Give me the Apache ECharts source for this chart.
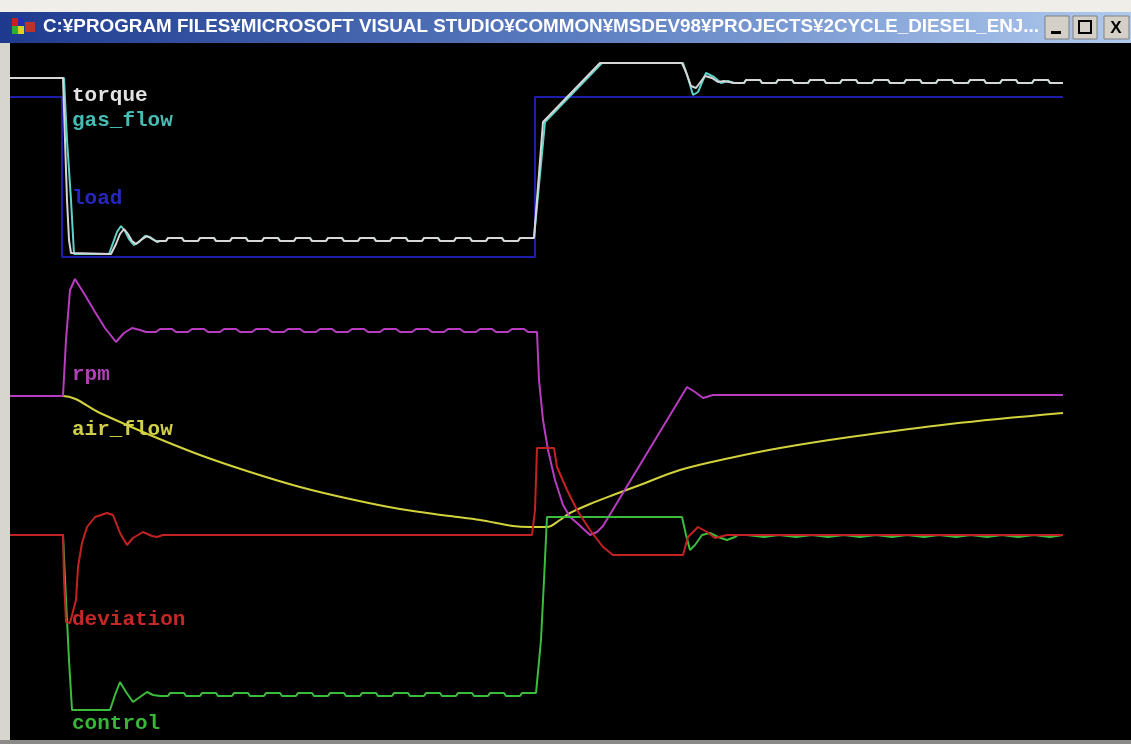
<!DOCTYPE html>
<html>
<head>
<meta charset="utf-8">
<title>2cycle diesel engine</title>
<script src="https://cdn.jsdelivr.net/npm/echarts@6.0.0/dist/echarts.min.js"></script>
<style>
  html, body { margin: 0; padding: 0; background: #000; }
  #main { width: 1131px; height: 744px; }
</style>
</head>
<body>
<div id="main"></div>
<script>
// Engine simulation traces: [time step, display level]
const load = [[0,643],[52,643],[52,483],[525,483],[525,643],[1053,643]];

const gasFlow = [[0,662],[54,662],[57,600],[61,540],[64,486],[99,486],[103,497],[107,508],[111,514],[115,509],[119,501],[124,495],[129,498],[135,504],[140,503],[146,499],[150,499],
  [156,499],[158,502],[172,502],[174,499],[188,499],[190,502],[204,502],[206,499],[220,499],[222,502],[236,502],[238,499],[252,499],[254,502],[268,502],[270,499],[284,499],[286,502],[300,502],[302,499],[316,499],[318,502],[332,502],[334,499],[348,499],[350,502],[364,502],[366,499],[380,499],[382,502],[396,502],[398,499],[412,499],[414,502],[428,502],[430,499],[444,499],[446,502],[460,502],[462,499],[476,499],[478,502],[492,502],[494,499],[508,499],[510,502],[524,502],[526,500],
  [535,618],[592,677],[673,677],[678,662],[683,645],[688,648],[696,667],[704,663],[711,657],[718,659],
  [724,657],[734,657],[736,660],[750,660],[752,657],[766,657],[768,660],[782,660],[784,657],[798,657],[800,660],[814,660],[816,657],[830,657],[832,660],[846,660],[848,657],[862,657],[864,660],[878,660],[880,657],[894,657],[896,660],[910,660],[912,657],[926,657],[928,660],[942,660],[944,657],[958,657],[960,660],[974,660],[976,657],[990,657],[992,660],[1006,660],[1008,657],[1022,657],[1024,660],[1038,660],[1040,657],[1053,657]];

const torque = [[0,662],[53,662],[55,600],[57,540],[59,500],[61,487],[63,486],[101,486],[106,496],[110,506],[114,511],[118,506],[122,499],[126,496],[131,500],[137,504],[142,501],[147,498],[150,499],
  [156,499],[158,502],[172,502],[174,499],[188,499],[190,502],[204,502],[206,499],[220,499],[222,502],[236,502],[238,499],[252,499],[254,502],[268,502],[270,499],[284,499],[286,502],[300,502],[302,499],[316,499],[318,502],[332,502],[334,499],[348,499],[350,502],[364,502],[366,499],[380,499],[382,502],[396,502],[398,499],[412,499],[414,502],[428,502],[430,499],[444,499],[446,502],[460,502],[462,499],[476,499],[478,502],[492,502],[494,499],[508,499],[510,502],[524,502],[526,500],
  [533,618],[590,677],[672,677],[676,668],[681,654],[686,652],[695,664],[702,662],[708,658],[714,659],
  [724,657],[734,657],[736,660],[750,660],[752,657],[766,657],[768,660],[782,660],[784,657],[798,657],[800,660],[814,660],[816,657],[830,657],[832,660],[846,660],[848,657],[862,657],[864,660],[878,660],[880,657],[894,657],[896,660],[910,660],[912,657],[926,657],[928,660],[942,660],[944,657],[958,657],[960,660],[974,660],[976,657],[990,657],[992,660],[1006,660],[1008,657],[1022,657],[1024,660],[1038,660],[1040,657],[1053,657]];

const rpm = [[0,344],[53,344],[56,400],[60,450],[65,461],[75,445],[85,428],[95,412],[106,398],[114,407],[122,412],[130,410],
  [136,408],[146,408],[150,411],[162,411],[166,408],[178,408],[182,411],[194,411],[198,408],[210,408],[214,411],[226,411],[230,408],[242,408],[246,411],[258,411],[262,408],[274,408],[278,411],[290,411],[294,408],[306,408],[310,411],[322,411],[326,408],[338,408],[342,411],[354,411],[358,408],[370,408],[374,411],[386,411],[390,408],[402,408],[406,411],[418,411],[422,408],[434,408],[438,411],[450,411],[454,408],[466,408],[470,411],[482,411],[486,408],[498,408],[502,411],[514,411],[518,408],[527,408],
  [529,360],[533,320],[538,290],[545,260],[553,235],[560,223],[567,217],[580,205],[587,208],[593,214],[677,353],[685,348],[693,342],[703,345],[1053,345]];

const airFlow = [[0,344],[53,344],[90,327],[140,305],[190,285],[240,268],[290,253],[340,241],[390,231],[440,224],[470,220],[503,214],[520,213],[537,213],[550,220],[560,227],[580,236],[603,245],[630,255],[670,270],[720,282],[770,292],[840,303],[940,316],[1053,327]];

const deviation = [[0,205],[53,205],[54,160],[56,118],[60,117],[66,140],[68,173],[72,197],[77,213],[85,223],[97,227],[103,225],[110,207],[117,195],[123,202],[133,208],[142,204],[147,203],[153,205],[522,205],[525,230],[527,292],[544,292],[547,273],[557,250],[567,230],[580,210],[593,193],[603,185],[673,185],[678,203],[688,213],[697,208],[705,202],[717,205],[1053,205]];

const control = [[0,205],[53,205],[56,140],[59,80],[62,30],[100,30],[105,45],[110,58],[116,48],[123,38],[130,43],[137,48],[143,45],
  [150,44],[158,44],[160,47],[174,47],[176,44],[190,44],[192,47],[206,47],[208,44],[222,44],[224,47],[238,47],[240,44],[254,44],[256,47],[270,47],[272,44],[286,44],[288,47],[302,47],[304,44],[318,44],[320,47],[334,47],[336,44],[350,44],[352,47],[366,47],[368,44],[382,44],[384,47],[398,47],[400,44],[414,44],[416,47],[430,47],[432,44],[446,44],[448,47],[462,47],[464,44],[478,44],[480,47],[494,47],[496,44],[510,44],[512,47],[526,47],[528,46],
  [531,100],[534,160],[537,223],[672,223],[676,205],[680,190],[685,195],[692,205],[700,207],[708,203],[717,200],[725,203],
  [728,205],[737,205],[739,203],[754,203],[756,205],[769,205],[771,203],[786,203],[788,205],[802,205],[804,203],[818,203],[820,205],[834,205],[836,203],[850,203],[852,205],[866,205],[868,203],[882,203],[884,205],[897,205],[899,203],[914,203],[916,205],[929,205],[931,203],[946,203],[948,205],[961,205],[963,203],[977,203],[979,205],[992,205],[994,203],[1008,203],[1010,205],[1024,205],[1026,203],[1040,203],[1042,205],[1053,205]];

// Trace names, colours and label placement
const traceNames  = ['load', 'gas_flow', 'torque', 'air_flow', 'rpm', 'control', 'deviation'];
const traceData   = [load, gasFlow, torque, airFlow, rpm, control, deviation];
const traceColors = ['#1e1eaa', '#5cd2c8', '#d6d6d6', '#d2d23c', '#b83cc0', '#3cbc3c', '#c42222'];
const traceSmooth = [false, false, false, 0.35, false, false, false];
const labelColors = {torque:'#e2e2e2', gas_flow:'#46bcb4', load:'#2626c4', rpm:'#b040b8', air_flow:'#d0d048', deviation:'#c62828', control:'#38b638'};
const labelY = {torque:96, gas_flow:121, load:199, rpm:375, air_flow:430, deviation:620, control:724};

const windowTitle = 'C:¥PROGRAM FILES¥MICROSOFT VISUAL STUDIO¥COMMON¥MSDEV98¥PROJECTS¥2CYCLE_DIESEL_ENJ...';

const chart = echarts.init(document.getElementById('main'), null, {renderer: 'canvas'});

// fit the caption into the title bar width
const titleFont = 'bold 18px "Liberation Sans"';
const mctx = document.createElement('canvas').getContext('2d');
mctx.font = titleFont;
const titleScale = 996 / mctx.measureText(windowTitle).width;

const series = traceNames.map((name, i) => ({
  name: name,
  type: 'line',
  data: traceData[i],
  smooth: traceSmooth[i],
  showSymbol: false,
  symbol: 'none',
  animation: false,
  z: 2 + i,
  lineStyle: {color: traceColors[i], width: 2},
  emphasis: {disabled: true}
}));

const labelFont = 'bold 21px "Liberation Mono"';
const labels = Object.keys(labelY).map(k => ({
  type: 'text',
  x: 72, y: labelY[k],
  z: 50,
  style: {text: k, fill: labelColors[k], font: labelFont, verticalAlign: 'middle', align: 'left'}
}));

const chrome = [
  {type: 'rect', shape: {x: 0, y: 0, width: 1131, height: 12}, style: {fill: '#efeee8'}, z: 100},
  {type: 'rect', shape: {x: 0, y: 12, width: 1131, height: 31},
    style: {fill: new echarts.graphic.LinearGradient(0, 0, 1, 0, [
      {offset: 0, color: '#1e3a8e'}, {offset: 0.5, color: '#5a7cc0'}, {offset: 1, color: '#b0caee'}])}, z: 100},
  {type: 'rect', shape: {x: 0, y: 43, width: 10, height: 701}, style: {fill: '#d6d5ce'}, z: 100},
  {type: 'rect', shape: {x: 0, y: 740, width: 1131, height: 4}, style: {fill: '#8a8a88'}, z: 100},
  // window icon
  {type: 'rect', shape: {x: 12, y: 18, width: 6, height: 8}, style: {fill: '#c82020'}, z: 101},
  {type: 'rect', shape: {x: 18, y: 18, width: 6, height: 8}, style: {fill: '#2a2ab0'}, z: 101},
  {type: 'rect', shape: {x: 12, y: 26, width: 6, height: 8}, style: {fill: '#30b030'}, z: 101},
  {type: 'rect', shape: {x: 18, y: 26, width: 6, height: 8}, style: {fill: '#e0d020'}, z: 101},
  {type: 'rect', shape: {x: 25, y: 22, width: 10, height: 10}, style: {fill: '#c03030'}, z: 101},
  {type: 'text', x: 43, y: 27, scaleX: titleScale, z: 101,
    style: {text: windowTitle, fill: '#ffffff', font: titleFont, verticalAlign: 'middle', align: 'left'}},
  // caption buttons
  {type: 'rect', shape: {x: 1045, y: 16, width: 24, height: 23}, style: {fill: '#d4d0c8', stroke: '#808080', lineWidth: 1}, z: 101},
  {type: 'rect', shape: {x: 1051, y: 31, width: 10, height: 3}, style: {fill: '#000'}, z: 102},
  {type: 'rect', shape: {x: 1073, y: 16, width: 24, height: 23}, style: {fill: '#d4d0c8', stroke: '#808080', lineWidth: 1}, z: 101},
  {type: 'rect', shape: {x: 1079, y: 21, width: 12, height: 12}, style: {fill: 'none', stroke: '#000', lineWidth: 2}, z: 102},
  {type: 'rect', shape: {x: 1104, y: 16, width: 25, height: 23}, style: {fill: '#d4d0c8', stroke: '#808080', lineWidth: 1}, z: 101},
  {type: 'text', x: 1116, y: 28, z: 102, style: {text: 'X', fill: '#000', font: 'bold 17px "Liberation Sans"', align: 'center', verticalAlign: 'middle'}}
];

chart.setOption({
  backgroundColor: '#000000',
  animation: false,
  grid: {left: 10, right: 68, top: 45, bottom: 4, containLabel: false},
  xAxis: {type: 'value', min: 0, max: 1053, show: false},
  yAxis: {type: 'value', min: 0, max: 695, show: false},
  tooltip: {show: false},
  series: series,
  graphic: labels.concat(chrome)
});
</script>
</body>
</html>
